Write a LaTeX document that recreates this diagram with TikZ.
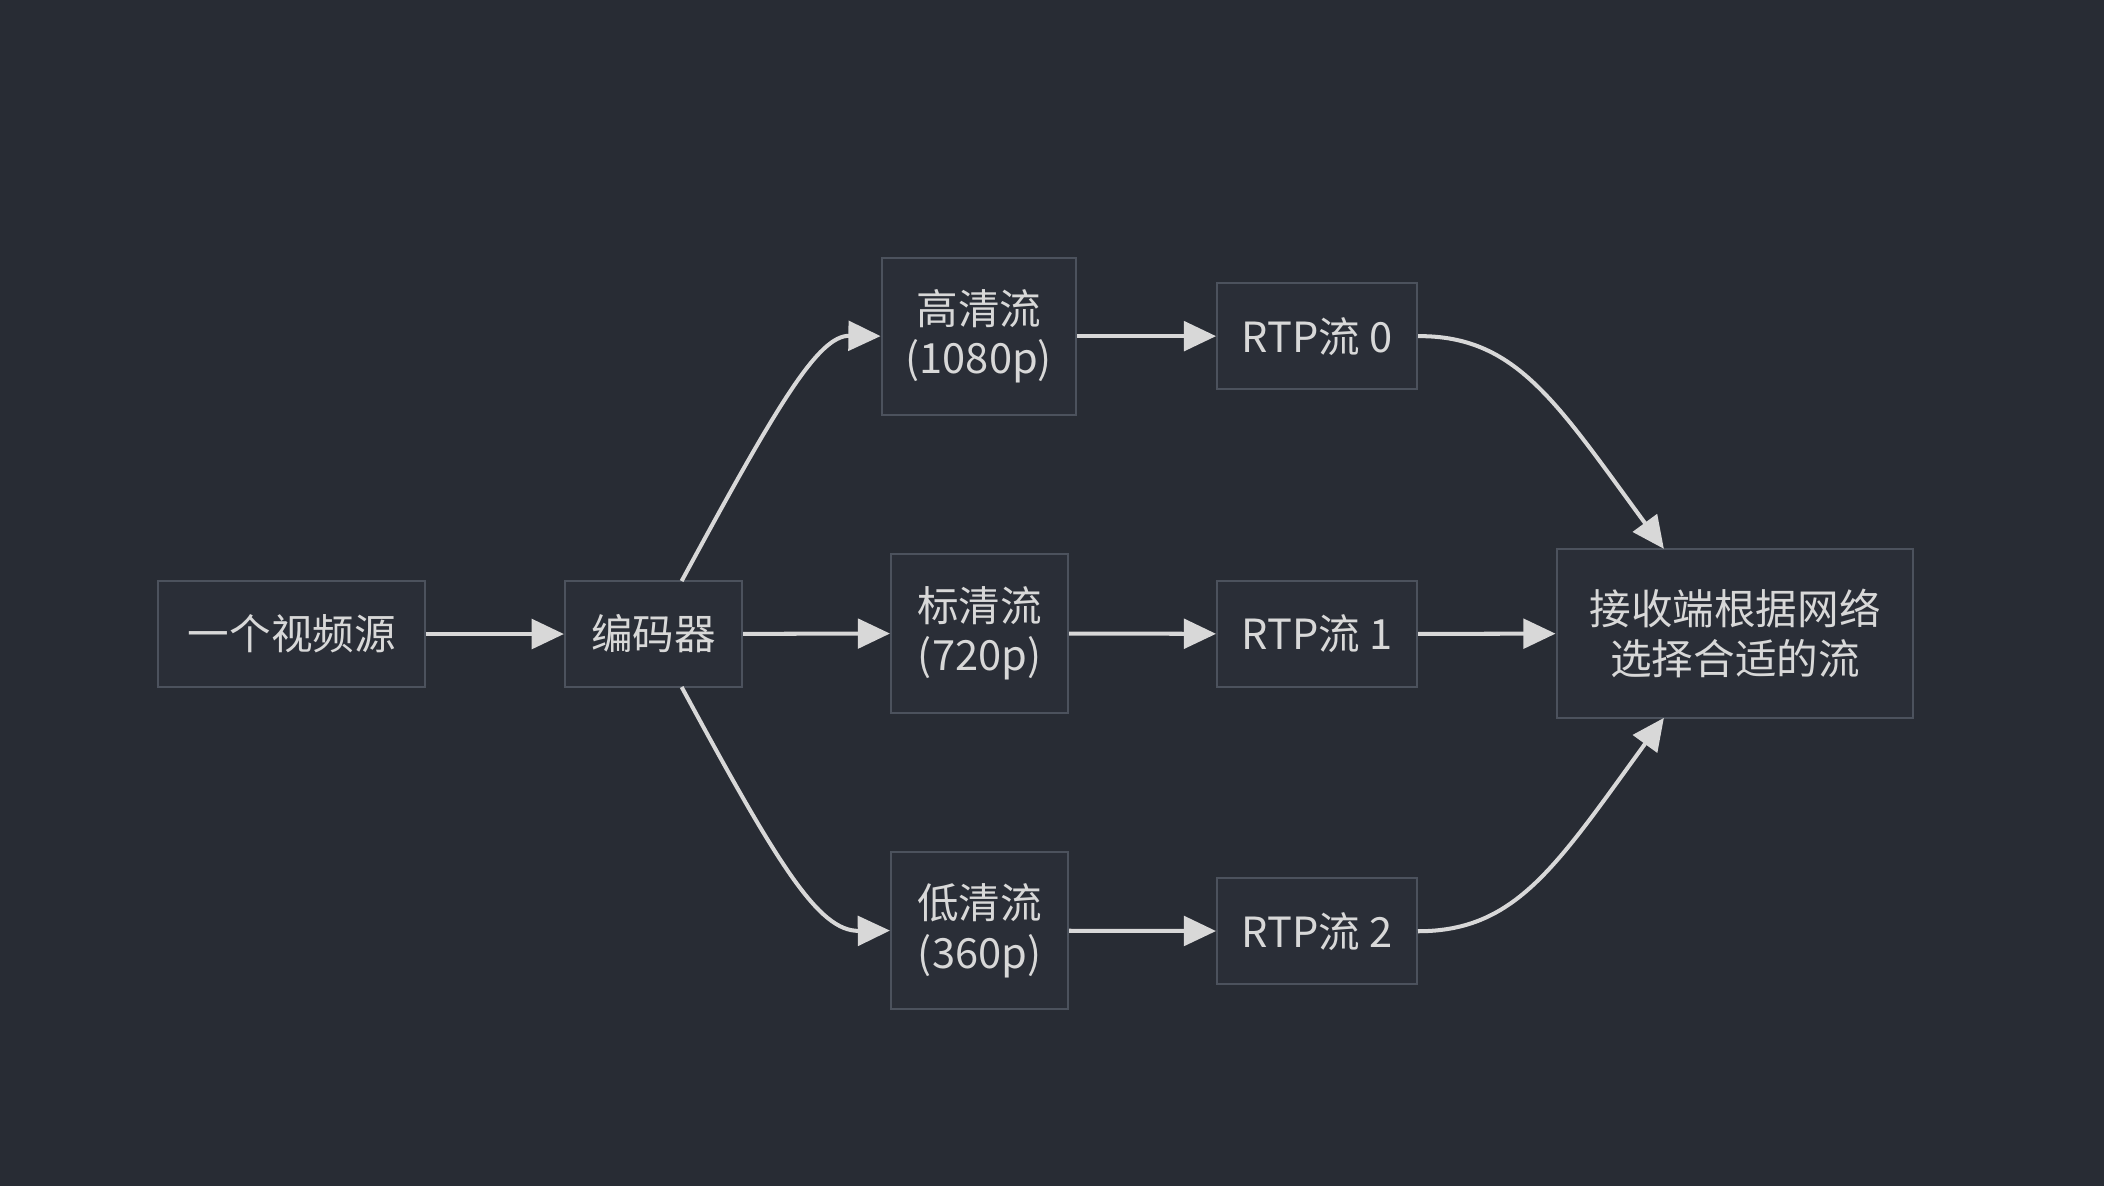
\documentclass[tikz,border=0pt]{standalone}
\usepackage{fontspec}
\setmainfont{Noto Sans CJK SC}
\usetikzlibrary{arrows.meta}
\definecolor{bg}{HTML}{282C34}
\definecolor{bx}{HTML}{2A2E37}
\definecolor{bd}{HTML}{4C525D}
\definecolor{fg}{HTML}{D8D8D8}
\begin{document}
\begin{tikzpicture}[x=1pt,y=-1pt,
  box/.style={draw=bd,fill=bx,line width=1.5pt,text=fg,font=\fontsize{31}{37}\selectfont,align=center,inner sep=0pt},
  ar/.style={draw=fg,line width=3pt,-{Triangle[length=24pt,width=22pt]}}]
\fill[bg] (0,0) rectangle (1568,884);
\useasboundingbox (0,0) rectangle (1568,884);
\node[box,minimum width=199pt,minimum height=79pt] (src) at (217.5,472.5) {一个视频源};
\node[box,minimum width=132pt,minimum height=79pt] (enc) at (487,472.5) {编码器};
\node[box,minimum width=145pt,minimum height=117pt] (hi) at (729.5,250.5) {高清流\\(1080p)};
\node[box,minimum width=132pt,minimum height=118pt] (sd) at (730,472) {标清流\\(720p)};
\node[box,minimum width=132pt,minimum height=117pt] (lo) at (730,693.5) {低清流\\(360p)};
\node[box,minimum width=149pt,minimum height=79pt] (r0) at (981.5,250.5) {RTP流 0};
\node[box,minimum width=149pt,minimum height=79pt] (r1) at (981.5,472.5) {RTP流 1};
\node[box,minimum width=149pt,minimum height=79pt] (r2) at (981.5,694) {RTP流 2};
\node[box,minimum width=266pt,minimum height=126pt] (rx) at (1293,472) {接收端根据网络\\选择合适的流};
\draw[ar] (src) -- (enc);
\draw[ar] (enc) -- (sd);
\draw[ar] (hi) -- (r0);
\draw[ar] (sd) -- (r1);
\draw[ar] (lo) -- (r2);
\draw[ar] (r1) -- (rx);
\draw[ar] (508,433) .. controls (580,300) and (610,250) .. (hi.west);
\draw[ar] (508,512) .. controls (580,645) and (610,694) .. (lo.west);
\draw[ar] (r0.east) .. controls (1130,250) and (1160,300) .. (1240,409);
\draw[ar] (r2.east) .. controls (1130,694) and (1160,645) .. (1240,535);
\end{tikzpicture}
\end{document}
